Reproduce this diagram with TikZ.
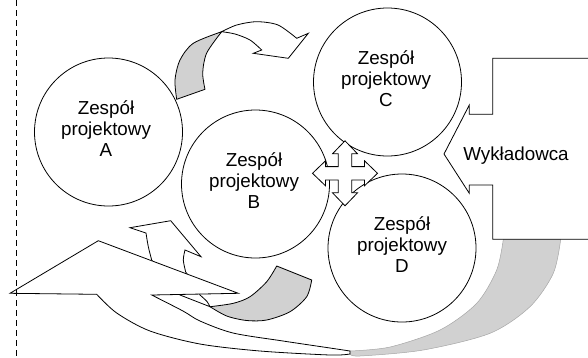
\documentclass[tikz,border=0pt]{standalone}
\usepackage{fontspec}
\setmainfont{Liberation Sans}
\begin{document}
\begin{tikzpicture}[x=1pt,y=-1pt,
  outl/.style={draw=black,line width=0.8pt,line join=miter},
  team/.style={circle,draw=black,line width=0.8pt,fill=white,minimum size=148pt,inner sep=0pt},
  lbl/.style={align=center,inner sep=0pt,font=\fontsize{18.8}{21}\selectfont},
  grayfill/.style={fill=black!18},
]
\useasboundingbox (0,0) rectangle (588,357);

% gray band under Wykladowca
\path[grayfill,draw=black!35,line width=0.5pt]
  plot[smooth] coordinates {(350,351) (390,347) (440,330) (476.7,303.3) (496.7,270) (503.3,239.3)}
  -- (560.7,239.3)
  -- plot[smooth] coordinates {(560.7,239.3) (553.3,273.3) (530,306.7) (490,333.3) (423.3,350) (360,356) (350,354)}
  -- cycle;

% white part of arrow from B towards A (goes under big arrow)
\path[outl,fill=white]
  (210,306.7) -- (180,295) -- (165,280) -- (151.7,260)
  -- plot[smooth] coordinates {(151.7,260) (148.3,246.7) (146,233)}
  -- (130,227.7) -- (170.7,220.7) -- (201,256.7) -- (185,250)
  -- plot[smooth] coordinates {(185,250) (183.3,260) (185.7,272)}
  -- (195,285) -- (200,295)
  -- plot[smooth] coordinates {(200,295) (207,301.5) (210,306.7)}
  -- cycle;

% big left-pointing arrow
\path[outl,fill=white]
  (10,293.3) -- (98.3,240.7) -- (238.3,293.3) -- (151.7,295)
  -- plot[smooth] coordinates {(151.7,295) (183,311) (200,321) (233,333) (283,341) (330,348) (350,351)}
  -- plot[smooth] coordinates {(350,354) (330,355) (260,351) (200,344) (150,331) (116.7,313) (96.7,294.3)}
  -- cycle;

% gray twisted part near B
\path[outl,grayfill]
  (276.7,266) -- (311.7,280)
  -- plot[smooth] coordinates {(311.7,280) (306.7,296.7) (290,311.7) (266.7,320) (246.7,320.5) (226.7,316) (210,306.7)}
  -- plot[smooth] coordinates {(210,306.7) (233.3,303.3) (250,296.7) (266.7,281.7) (276.7,266)}
  -- cycle;

% circles
\node[team] (A) at (108.5,132) {};
\node[team] (B) at (255.5,184) {};
\node[team] (C) at (387.5,82) {};
\node[team] (D) at (402,248) {};
\node[lbl] (At) at (106,129) {Zespół\\projektowy\\A};
\node[lbl] (Bt) at (254,181) {Zespół\\projektowy\\B};
\node[lbl] (Ct) at (386,79) {Zespół\\projektowy\\C};
\node[lbl] (Dt) at (402,245) {Zespół\\projektowy\\D};

% four-way arrow
\begin{scope}[shift={(345,173.3)}]
\path[outl,fill=white]
  (6.7,-6.7) -- (6.7,-19.5) -- (12.5,-19.5) -- (0,-32.5) -- (-12.5,-19.5) -- (-6.7,-19.5)
  -- (-6.7,-6.7) -- (-19.5,-6.7) -- (-19.5,-12.5) -- (-32.5,0) -- (-19.5,12.5) -- (-19.5,6.7)
  -- (-6.7,6.7) -- (-6.7,19.5) -- (-12.5,19.5) -- (0,32.5) -- (12.5,19.5) -- (6.7,19.5)
  -- (6.7,6.7) -- (19.5,6.7) -- (19.5,12.5) -- (32.5,0) -- (19.5,-12.5) -- (19.5,-6.7)
  -- cycle;
\end{scope}

% top curved arrow: gray underside
\path[outl,grayfill]
  (176.7,99.3) -- (205,89.3)
  -- plot[smooth] coordinates {(205,89.3) (202.7,73) (206.7,53) (221.7,31.7)}
  -- plot[smooth] coordinates {(221.7,31.7) (193.3,43.3) (180,60) (175,80) (176.7,99.3)}
  -- cycle;
% top curved arrow: white top side
\path[outl,fill=white]
  plot[smooth] coordinates {(221.7,31.7) (236.7,25) (256.7,21.7) (278,25) (296.7,38.3)}
  -- (308.3,33.3) -- (288.3,58.3) -- (253.3,53.3) -- (261.7,50)
  -- plot[smooth] coordinates {(261.7,50) (250,40) (235,34) (221.7,31.7)}
  -- cycle;

% Wykladowca
\path[fill=white] (588,58.3) -- (492.7,58.3) -- (492.7,114.3) -- (469.3,114.3) -- (469.3,105) -- (444,154)
  -- (469.3,193.3) -- (469.3,185) -- (492.7,185) -- (492.7,239.3) -- (588,239.3) -- cycle;
\draw[outl] (588,58.3) -- (492.7,58.3) -- (492.7,114.3) -- (469.3,114.3) -- (469.3,105) -- (444,154)
  -- (469.3,193.3) -- (469.3,185) -- (492.7,185) -- (492.7,239.3) -- (588,239.3);
\node[lbl,anchor=base] (W) at (516,160) {Wykładowca};

% dashed boundary
\coordinate (dtop) at (16,0);
\coordinate (dbot) at (16,357);
\draw[line width=0.8pt,dash pattern=on 6pt off 4pt] (dtop) -- (dbot);
\end{tikzpicture}
\end{document}
